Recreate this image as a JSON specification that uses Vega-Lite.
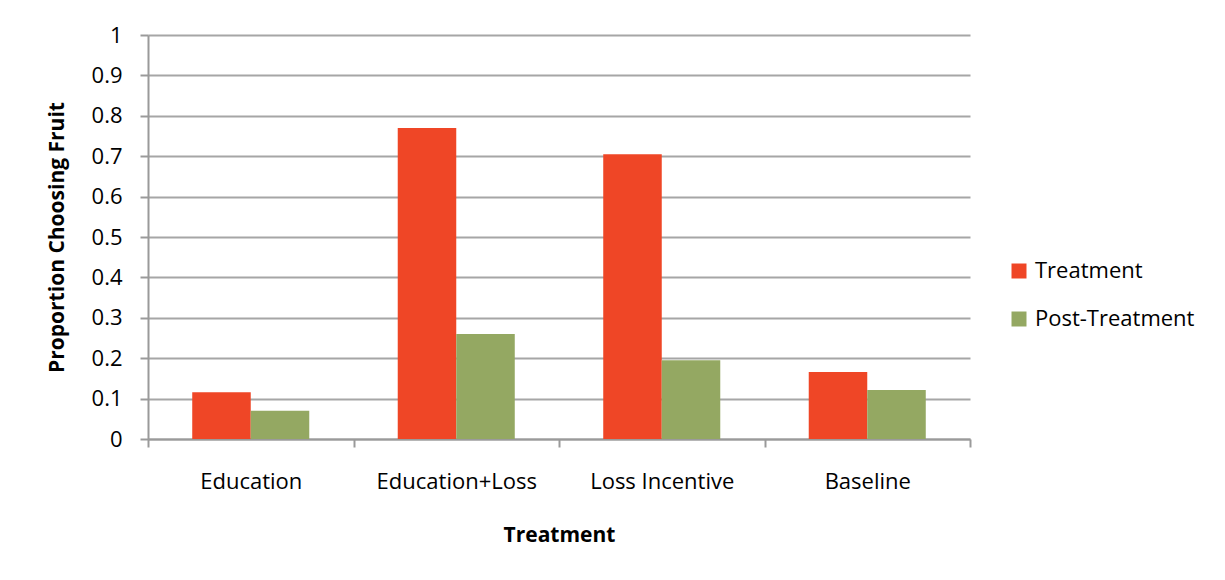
{
  "$schema": "https://vega.github.io/schema/vega-lite/v6.json",
  "width": 822,
  "height": 404,
  "autosize": {"type": "none"},
  "padding": {"left": 148, "top": 35, "right": 255, "bottom": 141},
  "background": "white",
  "data": {
    "values": [
      {"treatment": "Education", "series": "Treatment", "value": 0.116},
      {"treatment": "Education", "series": "Post-Treatment", "value": 0.07},
      {"treatment": "Education+Loss", "series": "Treatment", "value": 0.77},
      {"treatment": "Education+Loss", "series": "Post-Treatment", "value": 0.26},
      {"treatment": "Loss Incentive", "series": "Treatment", "value": 0.705},
      {"treatment": "Loss Incentive", "series": "Post-Treatment", "value": 0.195},
      {"treatment": "Baseline", "series": "Treatment", "value": 0.166},
      {"treatment": "Baseline", "series": "Post-Treatment", "value": 0.121}
    ]
  },
  "config": {
    "view": {"stroke": null},
    "font": "Open Sans",
    "axis": {"labelFont": "Open Sans", "titleFont": "Open Sans", "labelColor": "#000", "titleColor": "#000"},
    "legend": {"labelFont": "Open Sans"}
  },
  "mark": {"type": "bar"},
  "encoding": {
    "x": {
      "field": "treatment",
      "type": "nominal",
      "sort": ["Education", "Education+Loss", "Loss Incentive", "Baseline"],
      "scale": {"paddingInner": 0, "paddingOuter": 0},
      "axis": {
        "title": "Treatment",
        "titleFontSize": 21,
        "titleFontWeight": "bold",
        "titlePadding": 32,
        "labelFontSize": 22,
        "labelFontWeight": "normal",
        "labelAngle": 0,
        "labelPadding": 24,
        "tickBand": "extent",
        "tickSize": 8,
        "tickColor": "#9a9a9a",
        "tickWidth": 2,
        "domainColor": "#9a9a9a",
        "domainWidth": 2,
        "grid": false
      }
    },
    "xOffset": {
      "field": "series",
      "type": "nominal",
      "sort": ["Treatment", "Post-Treatment"],
      "scale": {"paddingInner": 0, "paddingOuter": 0.756}
    },
    "y": {
      "field": "value",
      "type": "quantitative",
      "scale": {"domain": [0, 1], "nice": false},
      "axis": {
        "title": "Proportion Choosing Fruit",
        "titleFontSize": 21,
        "titleFontWeight": "bold",
        "titlePadding": 24,
        "labelFontSize": 22,
        "labelPadding": 18,
        "values": [0, 0.1, 0.2, 0.3, 0.4, 0.5, 0.6, 0.7, 0.8, 0.9, 1],
        "labelExpr": "format(datum.value, '.1~f')",
        "tickSize": 8,
        "tickColor": "#9a9a9a",
        "tickWidth": 2,
        "domainColor": "#9a9a9a",
        "domainWidth": 2,
        "grid": true,
        "gridColor": "#a6a6a6",
        "gridWidth": 2
      }
    },
    "color": {
      "field": "series",
      "type": "nominal",
      "sort": ["Treatment", "Post-Treatment"],
      "scale": {"domain": ["Treatment", "Post-Treatment"], "range": ["#EF4626", "#94A862"]},
      "legend": {
        "title": null,
        "orient": "none",
        "legendX": 860,
        "legendY": 225,
        "symbolType": "square",
        "symbolSize": 225,
        "symbolStrokeWidth": 0,
        "labelFontSize": 22,
        "labelColor": "#000",
        "rowPadding": 26,
        "labelOffset": 5
      }
    }
  }
}
